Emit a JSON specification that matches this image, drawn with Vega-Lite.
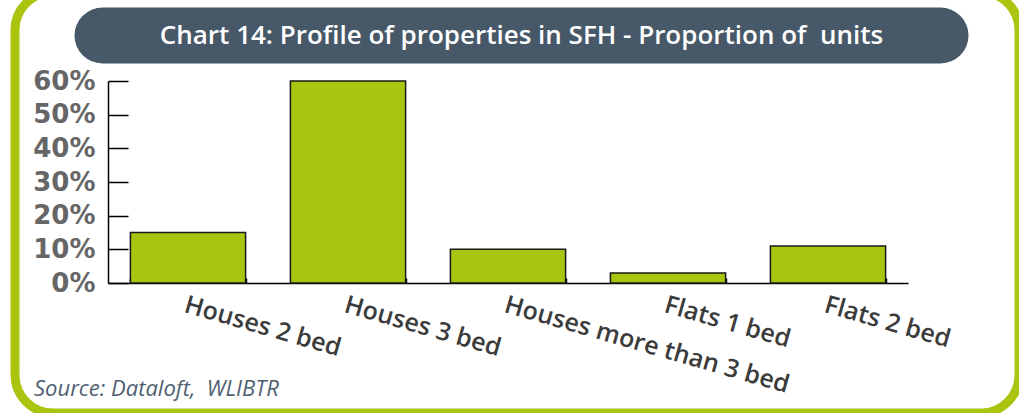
{
  "$schema": "https://vega.github.io/schema/vega-lite/v6.json",
  "padding": {"left": 8, "top": -8, "right": 0, "bottom": 0},
  "background": "white",
  "width": 1004,
  "height": 421,
  "view": {"stroke": "#aac40f", "strokeWidth": 9, "cornerRadius": 38, "fill": null},
  "title": {
    "text": "Source: Dataloft,\u00a0 WLIBTR",
    "orient": "bottom",
    "anchor": "start",
    "frame": "group",
    "offset": -34,
    "dx": 19,
    "font": "Open Sans",
    "fontStyle": "italic",
    "fontWeight": "normal",
    "fontSize": 22,
    "color": "#4f5f72"
  },
  "resolve": {"scale": {"x": "independent"}, "axis": {"x": "independent"}},
  "layer": [
    {
      "data": {
        "values": [
          {"type": "Houses 2 bed", "share": 0.15},
          {"type": "Houses 3 bed", "share": 0.60},
          {"type": "Houses more than 3 bed", "share": 0.10},
          {"type": "Flats 1 bed", "share": 0.03},
          {"type": "Flats 2 bed", "share": 0.11}
        ]
      },
      "mark": {"type": "bar", "fill": "#aac412", "stroke": "#1a1a1a", "strokeWidth": 1.5},
      "encoding": {
        "x": {
          "field": "type",
          "type": "nominal",
          "sort": null,
          "scale": {"range": [93, 893], "paddingInner": 0.28, "paddingOuter": 0.14},
          "axis": {
            "title": null,
            "orient": "bottom",
            "offset": -130,
            "domainColor": "#000000",
            "domainWidth": 1.5,
            "tickColor": "#000000",
            "tickWidth": 1.5,
            "tickSize": -5,
            "tickBand": "extent",
            "labelAngle": 16,
            "labelAlign": "left",
            "labelBaseline": "top",
            "labelPadding": 14,
            "labelFont": "Open Sans",
            "labelFontWeight": 600,
            "labelFontSize": 25,
            "labelColor": "#3b3b3b",
            "labelOverlap": false,
            "labelLimit": 500
          }
        },
        "y": {
          "field": "share",
          "type": "quantitative",
          "scale": {"domain": [0, 0.6], "range": [291, 89], "nice": false},
          "axis": {
            "title": null,
            "orient": "left",
            "offset": -93,
            "grid": false,
            "values": [0, 0.1, 0.2, 0.3, 0.4, 0.5, 0.6],
            "format": ".0%",
            "domainColor": "#000000",
            "domainWidth": 1.5,
            "tickColor": "#000000",
            "tickWidth": 1.5,
            "tickSize": -20,
            "labelPadding": 33,
            "labelFont": "DejaVu Sans",
            "labelFontWeight": "bold",
            "labelFontSize": 26,
            "labelColor": "#666666"
          }
        }
      }
    },
    {
      "data": {"values": [{}]},
      "mark": {"type": "point", "opacity": 0},
      "encoding": {
        "x": {
          "datum": 0.5,
          "type": "quantitative",
          "scale": {"domain": [0, 1], "range": [87, 925]},
          "axis": {
            "orient": "top",
            "offset": -43,
            "domainColor": "#475869",
            "domainWidth": 56,
            "domainCap": "round",
            "ticks": false,
            "labels": false,
            "grid": false,
            "title": "Chart 14: Profile of properties in SFH - Proportion of\u00a0 units",
            "titleX": 506,
            "titleY": 0,
            "titleAlign": "center",
            "titleBaseline": "middle",
            "titleColor": "#ffffff",
            "titleFont": "Open Sans",
            "titleFontWeight": 600,
            "titleFontSize": 26
          }
        }
      }
    }
  ]
}
